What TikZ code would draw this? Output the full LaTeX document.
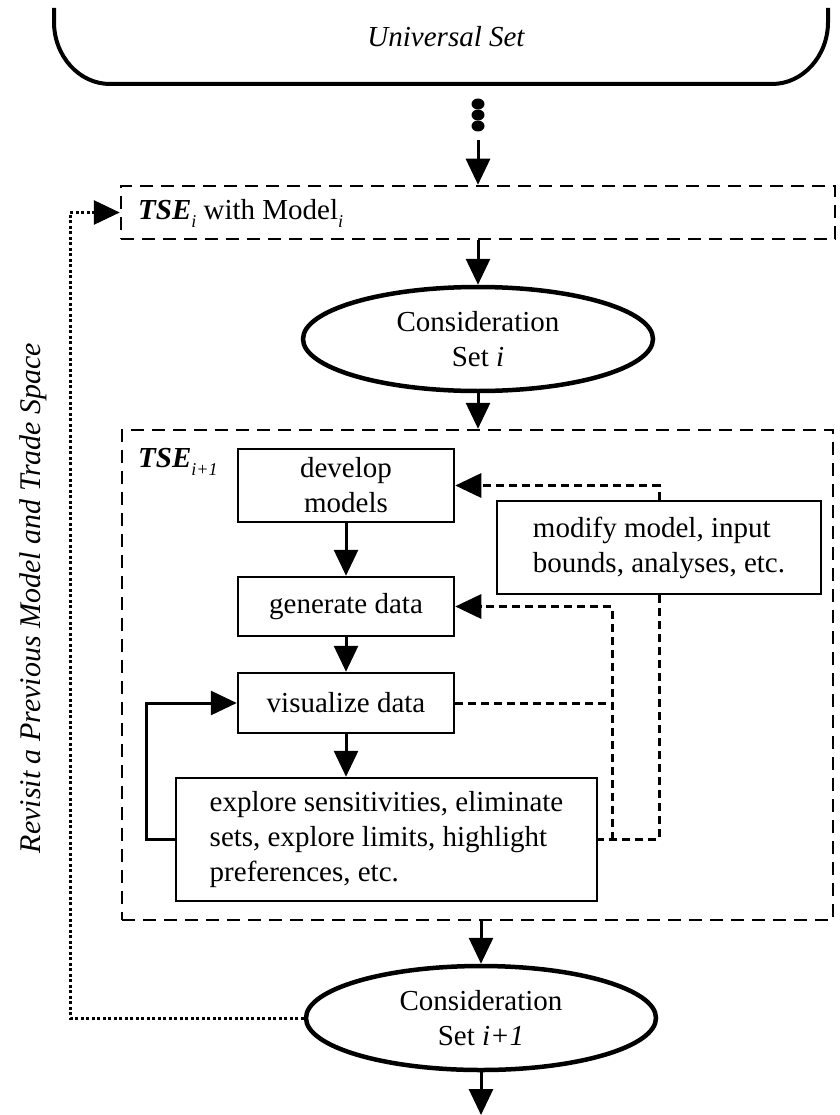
\documentclass[tikz,border=0pt]{standalone}
\usepackage{fontspec}
\setmainfont{Liberation Serif}
\usetikzlibrary{arrows.meta,shapes.geometric}
\newcommand{\mysub}[1]{\raisebox{-0.28em}{\fontsize{18}{18}\selectfont\itshape #1}}
\begin{document}
\begin{tikzpicture}[x=1pt,y=-1pt,
 every node/.style={font=\fontsize{29}{35}\selectfont},
 arr/.style={line width=3pt,-{Triangle[length=26pt,width=24pt]}},
 solidbox/.style={draw,line width=2.5pt,inner sep=0pt,align=center},
 dbox/.style={draw,line width=2.5pt,dash pattern=on 13pt off 8pt,inner sep=0pt},
 dconn/.style={line width=3pt,dash pattern=on 8pt off 5pt},
 dotconn/.style={line width=3pt,dash pattern=on 3pt off 2.5pt},
 setell/.style={draw,ellipse,line width=4.5pt,minimum width=350pt,minimum height=104pt,inner sep=0pt,align=center}]
\useasboundingbox (0,0) rectangle (839,1115);
% universal set
\draw[line width=4pt] (54,8) -- (54,22) .. controls (54,56) and (79,84) .. (110,84) -- (772,84) .. controls (803,84) and (828,56) .. (828,22) -- (828,8);
\node (univ) at (446,37) {\itshape Universal Set};
\fill (478,104) ellipse [x radius=6.5pt, y radius=5.5pt];
\fill (478,115) ellipse [x radius=6.5pt, y radius=5.5pt];
\fill (478,126) ellipse [x radius=6.5pt, y radius=5.5pt];
\coordinate (dotsend) at (478,140);
% TSE i
\node[dbox,minimum width=714pt,minimum height=53pt] (tsei) at (478,212.5) {};
\node[anchor=west,inner sep=0pt] (tseilabel) at (138,213) {\textbf{\textit{TSE}}\mysub{i} with Model\mysub{i}};
\draw[arr] (dotsend) -- (tsei.north);
\node[setell] (ell1) at (478,339) {Consideration\\Set \textit{i}};
\draw[arr] (tsei.south) -- (ell1.north);
% TSE i+1
\node[dbox,minimum width=711pt,minimum height=490pt] (tsebig) at (477.5,675) {};
\draw[arr] (ell1.south) -- (ell1.south |- tsebig.north);
\node[anchor=west,inner sep=0pt] (tsebiglabel) at (138,462) {\textbf{\textit{TSE}}\mysub{i+1}};
\node[solidbox,minimum width=216pt,minimum height=73pt] (develop) at (346,485.5) {develop\\models};
\node[solidbox,minimum width=216pt,minimum height=59pt] (generate) at (346,606.5) {generate data};
\node[solidbox,minimum width=216pt,minimum height=60pt] (visualize) at (346,703) {visualize data};
\node[solidbox,align=left,minimum width=421pt,minimum height=123pt] (explore) at (386.5,839.5) {explore sensitivities, eliminate\\sets, explore limits, highlight\\preferences, etc.};
\node[solidbox,align=left,minimum width=324pt,minimum height=93pt] (modify) at (659,547.5) {modify model, input\\bounds, analyses, etc.};
\draw[arr] (develop) -- (generate);
\draw[arr] (generate) -- (visualize);
\draw[arr] (visualize.south) -- (visualize.south |- explore.north);
\draw[arr] (explore.west) -- ++(-28,0) |- (visualize.west);
\draw[dconn,arr] (modify.north) |- (develop.east);
\draw[dconn] (modify.south) |- (explore.east);
\coordinate (jn) at (612,839.5);
\draw[dconn,arr] (jn) |- (generate.east);
\draw[dconn] (visualize.east) -- (visualize.east -| jn);
% bottom
\node[setell] (ell2) at (481,1018) {Consideration\\Set \textit{i+1}};
\draw[arr] (ell2.north |- tsebig.south) -- (ell2.north);
\coordinate (endpt) at (481,1115);
\draw[arr] (ell2.south) -- (endpt);
\coordinate (lcorner) at (70,212.5);
\draw[dotconn,arr] (ell2.west) -| (lcorner) -- (tsei.west);
\node[rotate=90,font=\fontsize{30}{36}\selectfont\itshape] (revisit) at (33,598) {Revisit a Previous Model and Trade Space};
\end{tikzpicture}
\end{document}
